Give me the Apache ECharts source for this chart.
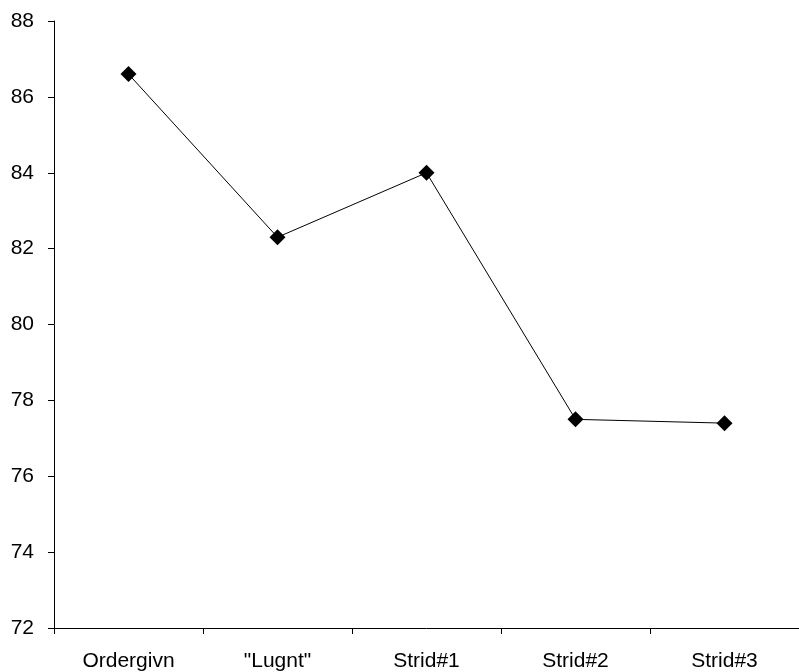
<!DOCTYPE html>
<html><head><meta charset="utf-8">
<script src="https://cdn.jsdelivr.net/npm/echarts@6/dist/echarts.min.js"></script>
<style>html,body{margin:0;padding:0;background:#fff}#c{width:799px;height:672px}</style>
</head><body><div id="c"></div>
<script>
const categories = ['Ordergivn', '"Lugnt"', 'Strid#1', 'Strid#2', 'Strid#3'];
const values = [86.6, 82.3, 84.0, 77.5, 77.4];
const yMin = 72, yMax = 88, yStep = 2;

const chart = echarts.init(document.getElementById('c'), null, {renderer: 'canvas'});
chart.setOption({
  animation: false,
  backgroundColor: '#fff',
  grid: {left: 54, right: 0, top: 21, bottom: 43, containLabel: false},
  xAxis: {
    type: 'category', data: categories, boundaryGap: true,
    axisLine: {lineStyle: {color: '#000', width: 1}},
    axisTick: {show: true, alignWithLabel: false, length: 6, lineStyle: {color: '#000'}},
    axisLabel: {color: '#000', fontFamily: 'Liberation Sans', fontSize: 21, margin: 23, interval: 0}
  },
  yAxis: {
    type: 'value', min: yMin, max: yMax, interval: yStep,
    axisLine: {show: true, lineStyle: {color: '#000', width: 1}},
    axisTick: {show: true, length: 6, lineStyle: {color: '#000'}},
    splitLine: {show: false},
    axisLabel: {color: '#000', fontFamily: 'Liberation Sans', fontSize: 21, margin: 20}
  },
  series: [{
    type: 'line', data: values,
    symbol: 'diamond', symbolSize: 16,
    lineStyle: {color: '#000', width: 1},
    itemStyle: {color: '#000'}
  }]
});
</script></body></html>
